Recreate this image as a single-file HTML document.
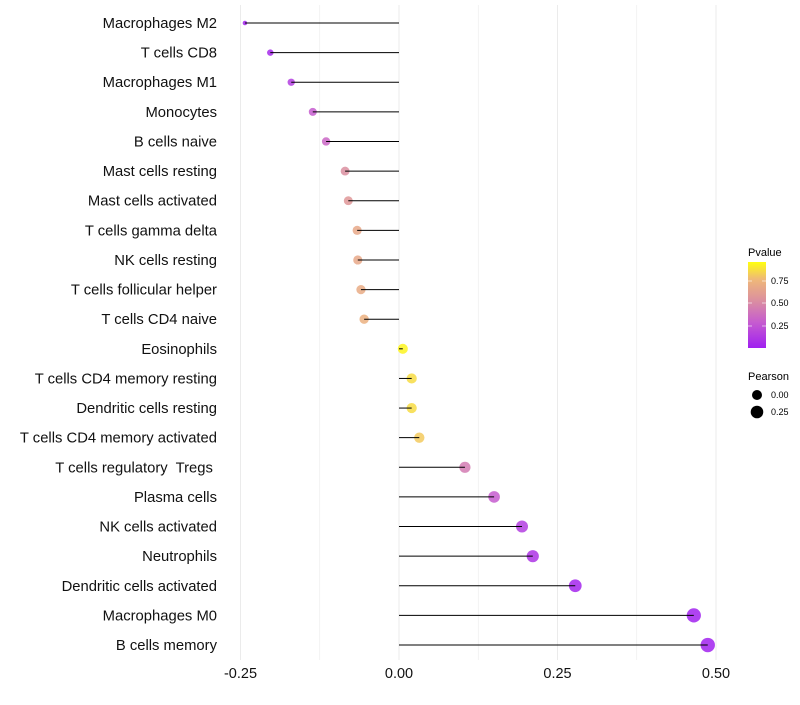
<!DOCTYPE html>
<html><head><meta charset="utf-8"><style>
body{margin:0;background:#fff;font-family:"Liberation Sans",sans-serif}
text{white-space:pre}
</style></head><body>
<svg id="c" width="800" height="700" xmlns="http://www.w3.org/2000/svg">
<defs><linearGradient id="pg" x1="0" y1="1" x2="0" y2="0">
<stop offset="0" stop-color="#A020F0"/><stop offset="0.3" stop-color="#C65CCF"/><stop offset="0.55" stop-color="#DB8FA0"/><stop offset="0.8" stop-color="#EFB878"/><stop offset="1" stop-color="#FFFF10"/>
</linearGradient></defs>
<g id="grid"></g><g id="marks"></g><g id="labels"></g>
<g font-size="9">
<text x="748" y="256" font-size="11">Pvalue</text>
<rect x="748" y="262" width="18" height="86" fill="url(#pg)"/>
<line x1="748" y1="281" x2="752" y2="281" stroke="#fff" opacity="0.6"/><line x1="762" y1="281" x2="766" y2="281" stroke="#fff" opacity="0.6"/>
<line x1="748" y1="303" x2="752" y2="303" stroke="#fff" opacity="0.6"/><line x1="762" y1="303" x2="766" y2="303" stroke="#fff" opacity="0.6"/>
<line x1="748" y1="326" x2="752" y2="326" stroke="#fff" opacity="0.6"/><line x1="762" y1="326" x2="766" y2="326" stroke="#fff" opacity="0.6"/>
<text x="771" y="284">0.75</text><text x="771" y="306">0.50</text><text x="771" y="329">0.25</text>
</g>
<g font-size="9">
<text x="748" y="380" font-size="11">Pearson</text>
<circle cx="757" cy="395" r="5" fill="#000"/><text x="771" y="398">0.00</text>
<circle cx="757" cy="412" r="6.3" fill="#000"/><text x="771" y="415">0.25</text>
</g>
</svg>
<script>
const categories=["Macrophages M2","T cells CD8","Macrophages M1","Monocytes","B cells naive","Mast cells resting","Mast cells activated","T cells gamma delta","NK cells resting","T cells follicular helper","T cells CD4 naive","Eosinophils","T cells CD4 memory resting","Dendritic cells resting","T cells CD4 memory activated","T cells regulatory  Tregs ","Plasma cells","NK cells activated","Neutrophils","Dendritic cells activated","Macrophages M0","B cells memory"];
const pearson=[-0.243,-0.203,-0.170,-0.136,-0.115,-0.085,-0.080,-0.066,-0.065,-0.060,-0.055,0.006,0.020,0.020,0.032,0.104,0.150,0.194,0.211,0.278,0.465,0.487];
const pvalue=[0.02,0.05,0.15,0.3,0.35,0.55,0.6,0.7,0.7,0.72,0.75,0.97,0.9,0.9,0.85,0.45,0.3,0.15,0.1,0.03,0.01,0.01];
const xticks=[-0.25,0,0.25,0.5];
const xtickLabels=["-0.25","0.00","0.25","0.50"];
const NS="http://www.w3.org/2000/svg";
const X=v=>399+v*634;
const Y=i=>23+i*29.62;
const R=v=>2+5.2*Math.sqrt(Math.max(0,(v+0.245)/0.735));
const stops=[[0,[160,32,240]],[0.3,[198,92,207]],[0.55,[219,143,160]],[0.8,[239,184,120]],[1,[255,255,16]]];
function col(p){for(let i=1;i<stops.length;i++){if(p<=stops[i][0]){const a=stops[i-1],b=stops[i],t=(p-a[0])/(b[0]-a[0]);return `rgb(${a[1].map((c,k)=>Math.round(c+(b[1][k]-c)*t)).join(",")})`;}}return "rgb(255,255,16)";}
function mk(t,a,par){const e=document.createElementNS(NS,t);for(const k in a)e.setAttribute(k,a[k]);par.appendChild(e);return e;}
const grid=document.getElementById('grid'),marks=document.getElementById('marks'),labels=document.getElementById('labels');
for(let v=-0.25;v<=0.5001;v+=0.125){const g=mk('line',{x1:X(v),x2:X(v),y1:5,y2:660,stroke:'#ebebeb','stroke-width':Math.abs(v/0.25-Math.round(v/0.25))<1e-6?1:0.6},grid);

}
xticks.forEach((v,i)=>{const t=mk('text',{x:X(v),y:678,'text-anchor':'middle','font-size':14.5,fill:'#111'},labels);t.textContent=xtickLabels[i];

});
categories.forEach((c,i)=>{
const t=mk('text',{x:217,y:Y(i)+5,'text-anchor':'end','font-size':14.8,fill:'#111'},labels);t.textContent=c;


const p=mk('circle',{cx:X(pearson[i]),cy:Y(i),r:R(pearson[i]),fill:col(pvalue[i]),'fill-opacity':0.85},marks);


const l=mk('line',{x1:X(0),x2:X(pearson[i]),y1:Y(i),y2:Y(i),stroke:'#000','stroke-width':1},marks);


});
</script>
</body></html>
